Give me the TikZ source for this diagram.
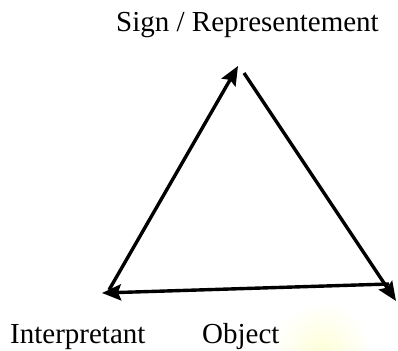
\documentclass[tikz,border=0pt]{standalone}
\usepackage{fontspec}
\setmainfont{Liberation Serif}
\usetikzlibrary{arrows.meta}
\begin{document}
\begin{tikzpicture}[x=1pt,y=-1pt,
  edge/.style={line width=3.4pt,-{Stealth[length=19pt,width=16pt,inset=3pt]}},
  lbl/.style={anchor=base west,inner sep=0pt,font=\fontsize{29}{32}\selectfont}]
\useasboundingbox (0,0) rectangle (398,350);
% faint yellow glow
\begin{scope}
\clip (0,0) rectangle (398,350);
\shade[inner color=yellow!16!white,outer color=white,draw=none] (322,356) ellipse (50pt and 55pt);
\end{scope}
\coordinate (tl) at (238,66);
\coordinate (tr) at (244,73);
\coordinate (bl) at (109,290);
\coordinate (blt) at (102,293);
\coordinate (br) at (389,284);
\coordinate (brt) at (396,301);
\draw[edge] (bl) -- (tl);
\draw[edge] (tr) -- (brt);
\draw[edge] (br) -- (blt);
\node[lbl] (sign) at (116,32) {Sign / Representement};
\node[lbl] (interp) at (10,343) {Interpretant};
\node[lbl] (obj) at (202,343) {Object};
\end{tikzpicture}
\end{document}
